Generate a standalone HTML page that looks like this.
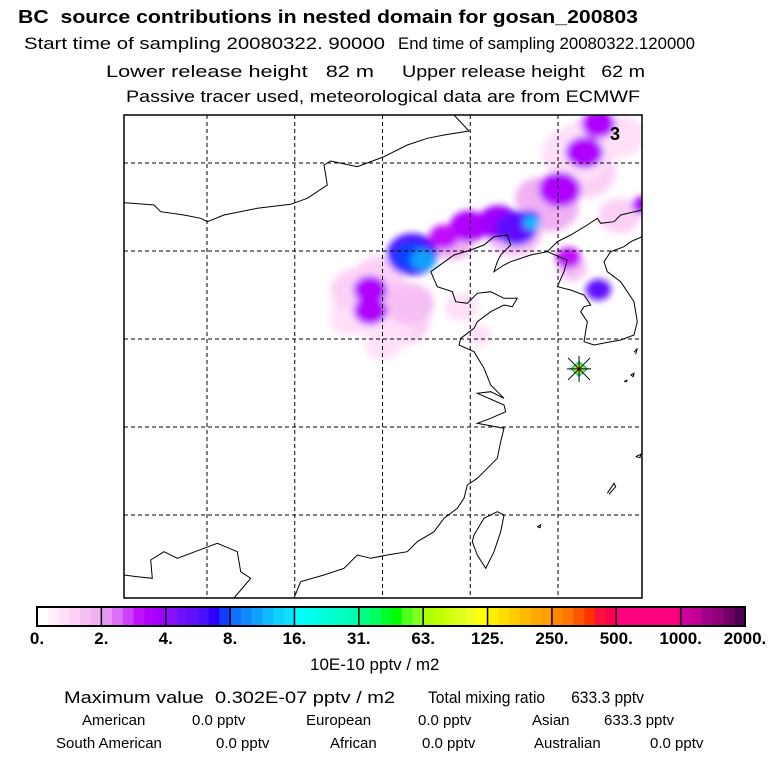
<!DOCTYPE html>
<html><head><meta charset="utf-8"><style>
body{margin:0;background:#fff;}
svg{display:block;font-family:"Liberation Sans",sans-serif;}
text{white-space:pre;}
</style></head><body>
<svg width="768" height="768" viewBox="0 0 768 768">
<defs>
<filter id="blur" x="-50%" y="-50%" width="200%" height="200%"><feGaussianBlur stdDeviation="3.5"/></filter>
<clipPath id="mapclip"><rect x="124" y="115" width="518" height="483"/></clipPath>
</defs>
<g>
<text x="18" y="23" font-size="18" font-weight="bold" textLength="620" lengthAdjust="spacingAndGlyphs">BC  source contributions in nested domain for gosan_200803</text>
<text x="24" y="49" font-size="17" textLength="361" lengthAdjust="spacingAndGlyphs">Start time of sampling 20080322. 90000</text>
<text x="398" y="49" font-size="17" textLength="297" lengthAdjust="spacingAndGlyphs">End time of sampling 20080322.120000</text>
<text x="106" y="77" font-size="17" textLength="268" lengthAdjust="spacingAndGlyphs">Lower release height   82 m</text>
<text x="402" y="77" font-size="17" textLength="243" lengthAdjust="spacingAndGlyphs">Upper release height   62 m</text>
<text x="126" y="102" font-size="17" textLength="514" lengthAdjust="spacingAndGlyphs">Passive tracer used, meteorological data are from ECMWF</text>
</g>
<g id="map" clip-path="url(#mapclip)">
<g id="plume" filter="url(#blur)"></g>
<g id="grid"></g>
<g id="coast" fill="none" stroke="#000" stroke-width="1"></g>
</g>
<rect x="124" y="115" width="518" height="483" fill="none" stroke="#000" stroke-width="1.5"/>
<text x="610" y="140" font-size="18" font-weight="bold">3</text>
<g id="station"></g>
<g id="cbar"></g>
<text x="310" y="670" font-size="17">10E-10 pptv / m2</text>
<g font-size="17">
<text x="64" y="703" textLength="331" lengthAdjust="spacingAndGlyphs">Maximum value  0.302E-07 pptv / m2</text>
<text x="428" y="703" textLength="216" lengthAdjust="spacingAndGlyphs">Total mixing ratio      633.3 pptv</text>
</g>
<g font-size="15">
<text x="82" y="725">American</text><text x="192" y="725">0.0 pptv</text>
<text x="306" y="725">European</text><text x="418" y="725">0.0 pptv</text>
<text x="532" y="725">Asian</text><text x="604" y="725">633.3 pptv</text>
<text x="56" y="748">South American</text><text x="216" y="748">0.0 pptv</text>
<text x="330" y="748">African</text><text x="422" y="748">0.0 pptv</text>
<text x="534" y="748">Australian</text><text x="650" y="748">0.0 pptv</text>
</g>
</svg>
<script>
const cbarLabels=["0.","2.","4.","8.","16.","31.","63.","125.","250.","500.","1000.","2000."];
const cbarColors=[
["#ffffff","#fff0fb","#ffe0f8","#fcd0f6","#f6c0f4","#f0b0f2"],
["#e699f4","#dc70f8","#cc40fa","#c010fc","#b000ff","#a000ff"],
["#8a10ff","#7010ff","#6010ff","#4a10ff","#3000ff","#1040ff"],
["#1070ff","#1088ff","#10a0ff","#10b8ff","#10d0ff","#10e0ff"],
["#00ffff","#00fff0","#00ffe0","#00ffd0","#00ffc0","#00ffb0"],
["#00ff80","#00ff60","#00ff30","#00ff00","#50ff20","#80ff20"],
["#b0ff00","#c0ff00","#d0ff10","#e0ff20","#f0ff20","#ffff00"],
["#ffee00","#ffdd00","#ffcc00","#ffbb00","#ffaa00","#ffa000"],
["#ff8800","#ff7700","#ff5500","#ff3300","#ff1040","#ff0050"],
["#ff0080","#ff0080","#ff0080","#ff0080","#ff0080","#ff0080"],
["#d000a0","#c00090","#a00088","#900078","#700068","#500050"]];
// plume cells: lon, lat, radius(deg), colour level (segment*6+shade)
const plumeLon=[119.0,121.0,120.5,118.5,119.8,124.5,127.5,129.5,131.5,132.0,130.8,133.5,125.5,118.0,121.5,120.0,131.0,133.5,129.0,124.0,
119.3,119.3,121.7,124.9,126.6,127.6,130.1,131.5,132.3,132.3,130.6,134.8,123.5,
121.6,122.3,128.4,128.5];
const plumeLat=[36.8,36.0,35.3,37.8,38.5,36.8,41.0,42.5,44.5,46.5,39.0,42.0,35.2,36.0,37.0,34.6,45.5,46.5,43.0,40.5,
37.8,36.6,39.8,41.4,41.6,41.3,43.5,45.6,47.2,37.8,39.6,42.6,40.8,
39.7,39.5,41.8,41.6];
const plumeR=[1.6,1.4,1.0,1.2,1.2,0.8,1.3,1.4,1.5,1.2,0.7,1.0,0.6,0.8,1.2,0.8,1.6,1.2,1.2,1.0,
0.8,0.8,1.2,0.9,1.0,1.0,1.0,0.9,0.8,0.6,0.6,0.5,0.7,
0.8,0.6,0.5,0.4];
const plumeLvl=[2,3,2,3,3,2,4,5,3,3,4,3,2,2,4,2,2,2,5,5,
10,10,15,10,11,14,10,10,10,14,9,10,9,
17,20,16,21];

const NS='http://www.w3.org/2000/svg';
function xS(lon){return 207+(lon-110)*17.55;}
function yS(lat){return 163+(45-lat)*17.6;}
function mk(t,a,p){const e=document.createElementNS(NS,t);for(const k in a)e.setAttribute(k,a[k]);p.appendChild(e);return e;}
function lvlColor(l){return cbarColors[Math.floor(l/6)][l%6];}

const plume=document.getElementById('plume');
for(let i=0;i<plumeLon.length;i++){
 const c=mk('ellipse',{cx:xS(plumeLon[i]),cy:yS(plumeLat[i]),rx:plumeR[i]*17.6*1.2,ry:plumeR[i]*17.6,fill:lvlColor(plumeLvl[i])},plume);
 
 
}
const grid=document.getElementById('grid');
[110,115,120,125,130].forEach(l=>{const g=mk('line',{x1:xS(l),x2:xS(l),y1:115,y2:598,stroke:'#000','stroke-dasharray':'4,3'},grid);});
[45,40,35,30,25].forEach(l=>{const g=mk('line',{x1:124,x2:642,y1:yS(l),y2:yS(l),stroke:'#000','stroke-dasharray':'4,3'},grid);});

const coastZ=[
[0,263,90,270,110,290,180,300,230,310,250,320,300,300,400,280,500,268,550,250,610,210,600,150,620,138,700,155,780,125,850,90,910,70,960,60,1035,48,990,0],
[920,470,940,515,985,530,995,560,1030,565,1060,535,1100,530,1140,550,1180,550,1165,575,1140,570,1100,590,1060,620,1050,640,1010,670,1005,690,1050,710,1080,760,1100,810,1140,850,1100,830,1060,835,1140,870,1145,890,1100,910,1060,925,1140,940,1130,980,1120,1030,1090,1060,1060,1090,1030,1110,1020,1150,1000,1180,960,1210,930,1250,880,1280,850,1310,790,1320,740,1330,700,1320,660,1360,600,1380,530,1400,510,1449],
[330,1449,380,1390,350,1370,340,1310,280,1285,240,1300,160,1330,120,1310,80,1335,85,1390,40,1385,0,1380],
[920,470,990,420,1040,405,1080,390,1110,365,1150,360,1160,390,1130,420,1120,440,1110,470,1140,450,1160,440,1220,420,1270,410,1300,380,1340,360,1390,330,1420,310,1430,325,1470,320,1490,300,1554,285],
[1270,410,1330,435,1320,470,1300,515,1340,525,1380,540,1400,570,1380,575,1370,590,1390,620,1380,680,1410,690,1460,680,1490,675,1530,660,1540,620,1530,560,1490,500,1450,470,1440,440,1460,410,1500,395,1520,380,1554,365],
[1050,1260,1080,1210,1120,1190,1140,1200,1130,1250,1110,1310,1085,1360,1060,1320,1045,1280,1050,1260],
[1450,1135,1470,1105,1475,1115,1455,1138],[1500,800,1510,795,1505,802],[1530,712,1540,700,1535,718],[1520,780,1530,775,1528,785,1520,780],[1535,1025,1550,1018,1548,1028,1535,1025],[1240,1235,1250,1230,1248,1238,1240,1235]];
const coast=document.getElementById('coast');
coastZ.forEach(a=>{let pts=[];for(let i=0;i<a.length;i+=2)pts.push((124+a[i]/3).toFixed(1)+','+(115+a[i+1]/3).toFixed(1));
 const p=mk('polyline',{points:pts.join(' ')},coast);});

const st=document.getElementById('station');
const sx=xS(131.2),sy=yS(33.3);
mk('polygon',{points:`${sx},${sy-7} ${sx+8},${sy} ${sx},${sy+7} ${sx-8},${sy}`,fill:'#e0e000',stroke:'#30d0a0','stroke-width':2},st);
mk('path',{d:`M${sx-12},${sy}H${sx+12}M${sx},${sy-13}V${sy+13}M${sx-11},${sy-11}L${sx+11},${sy+11}M${sx+11},${sy-11}L${sx-11},${sy+11}`,stroke:'#000','stroke-width':1},st);

const cb=document.getElementById('cbar');
const cx0=37,cw=708/11;
cbarColors.forEach((seg,i)=>{seg.forEach((c,j)=>{const r=mk('rect',{x:cx0+i*cw+j*cw/6,y:607,width:cw/6+0.5,height:19,fill:c},cb);});
 mk('line',{x1:cx0+i*cw,x2:cx0+i*cw,y1:607,y2:626,stroke:'#000','stroke-width':1.5},cb);});
mk('rect',{x:cx0,y:607,width:708,height:19,fill:'none',stroke:'#000','stroke-width':2},cb);
cbarLabels.forEach((t,i)=>{const e=mk('text',{x:cx0+i*cw,y:644,'font-size':17,'font-weight':'bold','text-anchor':'middle'},cb);e.textContent=t;});
</script>
</body></html>
